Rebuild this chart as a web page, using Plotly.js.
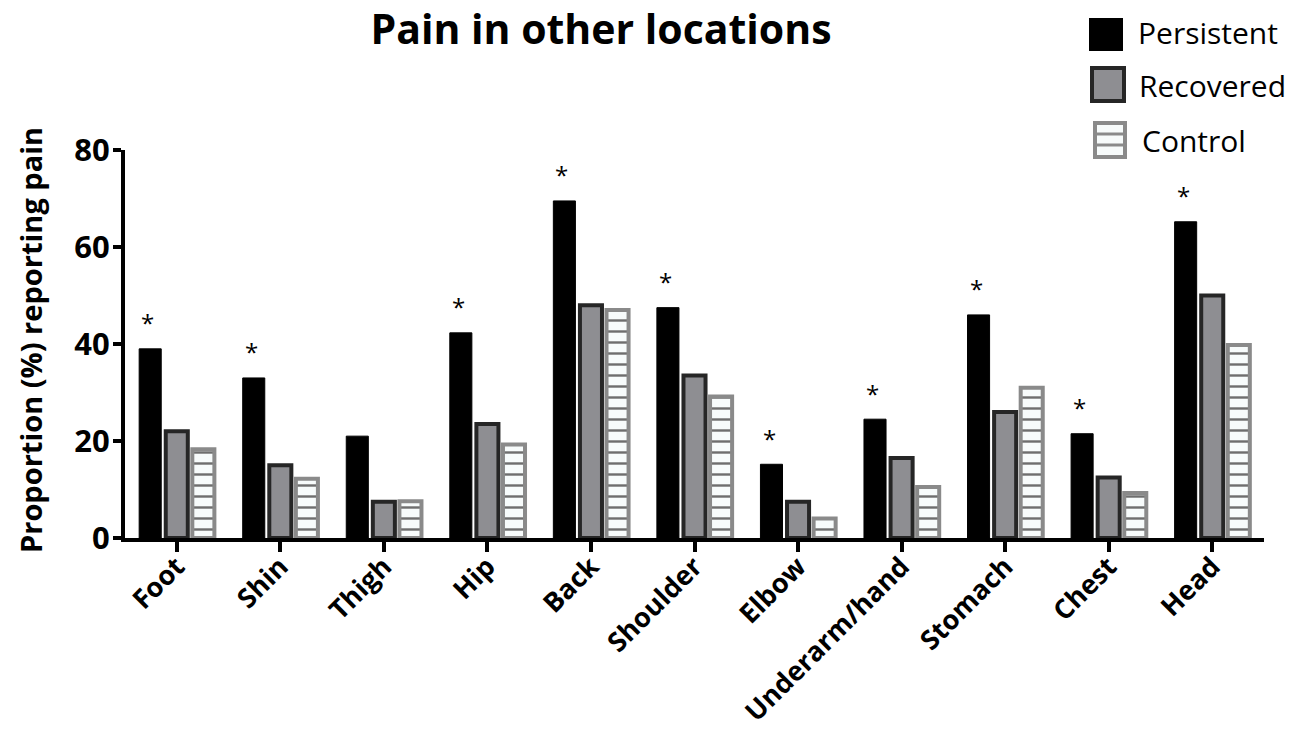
<!DOCTYPE html>
<html><head><meta charset="utf-8">
<script src="https://cdn.plot.ly/plotly-3.0.1.min.js"></script>
<style>html,body{margin:0;padding:0;background:#fff}#chart{width:1306px;height:740px}</style>
</head><body><div id="chart"></div>
<script>
const categories = ["Foot","Shin","Thigh","Hip","Back","Shoulder","Elbow","Underarm/hand","Stomach","Chest","Head"];
const persistent = [39, 33, 21, 42.3, 69.5, 47.5, 15.2, 24.5, 46, 21.5, 65.2];
const recovered  = [22, 15, 7.5, 23.5, 48, 33.5, 7.5, 16.5, 26, 12.5, 50];
const control    = [18.3, 12.2, 7.6, 19.3, 47, 29.2, 4, 10.5, 31, 9.3, 39.8];
const significant = [true, true, false, true, true, true, true, true, true, true, true];
const seriesNames = ["Persistent","Recovered","Control"];

const FONT = "Open Sans, Noto Sans, sans-serif";
const L = 125, R = 1264, T = 150, B = 538;
const px = v => (v - L) / (R - L);
const py = v => (B - v) / (B - T);

const traces = [
  {type:'bar', name:seriesNames[0], x:categories, y:persistent,
   marker:{color:'#000', line:{color:'#000', width:1}}},
  {type:'bar', name:seriesNames[1], x:categories, y:recovered,
   marker:{color:'#8e8e92', line:{color:'#262626', width:4}}},
  {type:'bar', name:seriesNames[2], x:categories, y:control,
   marker:{color:'#ffffff', line:{color:'#8a8a8a', width:4},
     pattern:{shape:'-', bgcolor:'#f7fbfb', fgcolor:'#6e6e6e', size:11, solidity:0.22, fillmode:'replace'}}}
];

const annotations = [];
categories.forEach((c,i)=>{
  if (significant[i]) annotations.push({x:c, y:persistent[i], xref:'x', yref:'y', text:'*', showarrow:false,
    xshift:-29, yshift:26, font:{family:FONT, size:24, color:'#000'}});
});
// custom legend
const legendText = [[1136,33],[1137,86],[1140,140]];
seriesNames.forEach((n,i)=>{
  annotations.push({x:px(legendText[i][0]), y:py(legendText[i][1]), xref:'paper', yref:'paper', xanchor:'left', yanchor:'middle',
    text:n, showarrow:false, font:{family:FONT, size:30, color:'#000'}});
});
annotations.push({x:px(30), y:py(340), xref:'paper', yref:'paper', xanchor:'center', yanchor:'middle', textangle:-90,
  text:'<b>Proportion (%) reporting pain</b>', showarrow:false, font:{family:FONT, size:29, color:'#000'}});
const shapes = [
  {type:'rect', xref:'paper', yref:'paper', x0:px(1089), x1:px(1123), y0:py(18), y1:py(51), fillcolor:'#000', line:{color:'#000', width:0}},
  {type:'rect', xref:'paper', yref:'paper', x0:px(1092), x1:px(1124), y0:py(68), y1:py(101), fillcolor:'#8e8e92', line:{color:'#262626', width:4}},
  {type:'rect', xref:'paper', yref:'paper', x0:px(1095), x1:px(1125), y0:py(123), y1:py(157), fillcolor:'#f7fbfb', line:{color:'#8a8a8a', width:4}},
  {type:'line', xref:'paper', yref:'paper', x0:px(1095), x1:px(1125), y0:py(134), y1:py(134), line:{color:'#8a8a8a', width:3}},
  {type:'line', xref:'paper', yref:'paper', x0:px(1095), x1:px(1125), y0:py(145), y1:py(145), line:{color:'#8a8a8a', width:3}}
];

const layout = {
  width:1306, height:740,
  margin:{l:L, r:1306-R, t:T, b:740-B},
  paper_bgcolor:'#fff', plot_bgcolor:'#fff',
  showlegend:false,
  barmode:'group', bargap:0.23, bargroupgap:0.17,
  title:{text:'<b>Pain in other locations</b>', x:601/1306, xref:'container', xanchor:'center', y:1-30/740, yref:'container', yanchor:'middle',
    font:{family:FONT, size:41, color:'#000'}},
  xaxis:{type:'category', range:[-0.5,10.5], showline:true, linecolor:'#000', linewidth:4,
    ticks:'outside', ticklen:10, tickwidth:4, tickcolor:'#000', tickangle:-45, ticklabelstandoff:-12,
    tickfont:{family:FONT, size:27, color:'#000'}, showgrid:false, zeroline:false, fixedrange:true},
  yaxis:{range:[0,80], tickvals:[0,20,40,60,80], ticktext:['<b>0</b>','<b>20</b>','<b>40</b>','<b>60</b>','<b>80</b>'],
    showline:true, linecolor:'#000', linewidth:4, ticks:'outside', ticklen:8, tickwidth:4, tickcolor:'#000', ticklabelstandoff:-3,
    tickfont:{family:FONT, size:31, color:'#000'}, showgrid:false, zeroline:false},
  annotations, shapes
};
layout.xaxis.ticktext = categories.map(c=>'<b>'+c+'</b>');
layout.xaxis.tickvals = categories;
Plotly.newPlot('chart', traces, layout, {displayModeBar:false, staticPlot:true});
</script></body></html>
